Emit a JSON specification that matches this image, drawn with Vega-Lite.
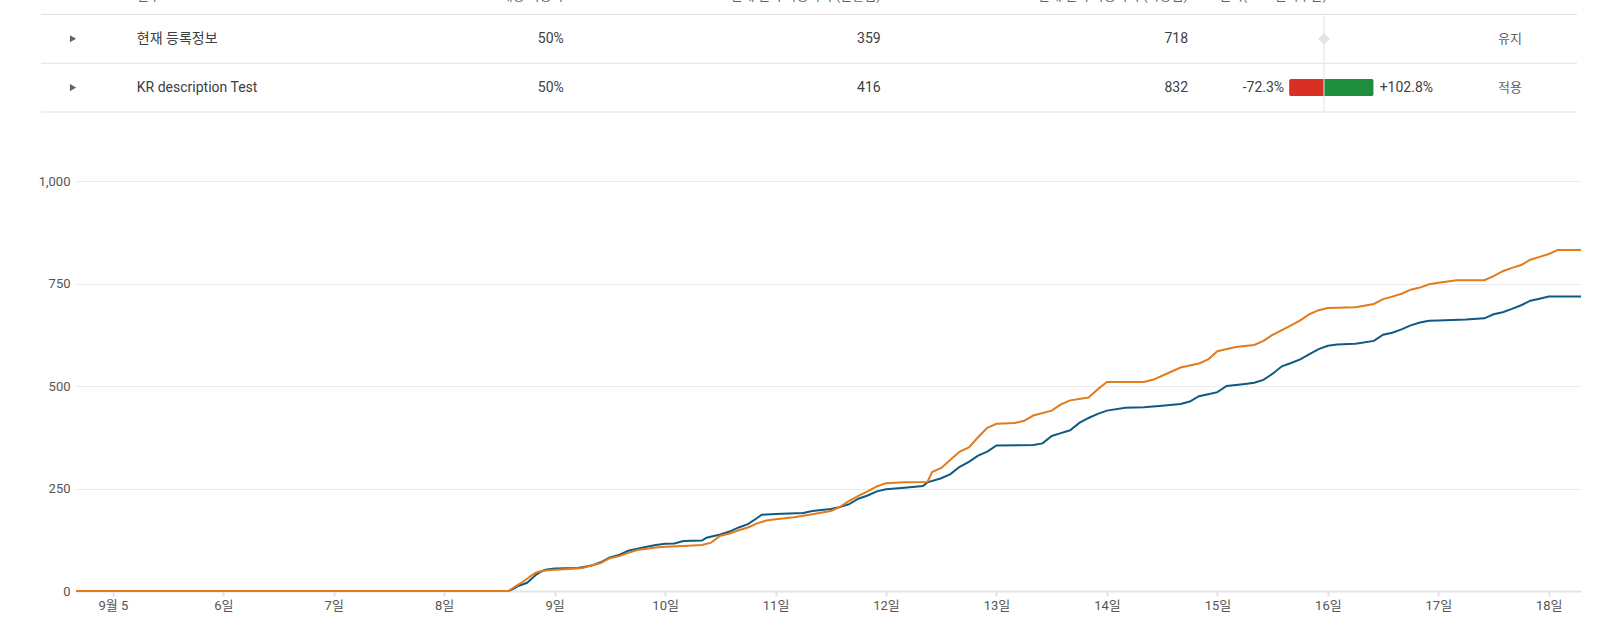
{
  "$schema": "https://vega.github.io/schema/vega-lite/v6.json",
  "width": 1505,
  "height": 410,
  "padding": {"left": 76, "top": 181, "right": 32, "bottom": 36},
  "autosize": {"type": "none"},
  "background": "white",
  "config": {"view": {"stroke": null}, "font": "Roboto, Noto Sans CJK KR, sans-serif"},
  "datasets": {
    "table": [
      {"name": "현재 등록정보", "audience": "50%", "observed": 359, "scaled": 718, "result": "유지"},
      {"name": "KR description Test", "audience": "50%", "observed": 416, "scaled": 832, "ci_low": -72.3, "ci_high": 102.8, "result": "적용"}
    ],
    "header": [
      {"row": "header", "name": "변수", "audience": "대상 사용자", "observed": "현재 설치 사용자 수(관찰됨)", "scaled": "현재 설치 사용자 수(확장됨)", "perf": "실적(90% 신뢰구간)"}
    ],
    "series": [
      {"variant": "현재 등록정보", "time": "2023-09-04T16:00", "installs": 0},
      {"variant": "현재 등록정보", "time": "2023-09-08T14:00", "installs": 0},
      {"variant": "현재 등록정보", "time": "2023-09-08T15:00", "installs": 5},
      {"variant": "현재 등록정보", "time": "2023-09-08T16:00", "installs": 12},
      {"variant": "현재 등록정보", "time": "2023-09-08T17:00", "installs": 16},
      {"variant": "현재 등록정보", "time": "2023-09-08T18:00", "installs": 20},
      {"variant": "현재 등록정보", "time": "2023-09-08T19:00", "installs": 30},
      {"variant": "현재 등록정보", "time": "2023-09-08T20:00", "installs": 40},
      {"variant": "현재 등록정보", "time": "2023-09-08T21:00", "installs": 47},
      {"variant": "현재 등록정보", "time": "2023-09-08T22:00", "installs": 52},
      {"variant": "현재 등록정보", "time": "2023-09-09T00:00", "installs": 55},
      {"variant": "현재 등록정보", "time": "2023-09-09T05:00", "installs": 56},
      {"variant": "현재 등록정보", "time": "2023-09-09T06:00", "installs": 58},
      {"variant": "현재 등록정보", "time": "2023-09-09T08:00", "installs": 62},
      {"variant": "현재 등록정보", "time": "2023-09-09T10:00", "installs": 70},
      {"variant": "현재 등록정보", "time": "2023-09-09T12:00", "installs": 82},
      {"variant": "현재 등록정보", "time": "2023-09-09T14:00", "installs": 88},
      {"variant": "현재 등록정보", "time": "2023-09-09T16:00", "installs": 98},
      {"variant": "현재 등록정보", "time": "2023-09-09T18:00", "installs": 103},
      {"variant": "현재 등록정보", "time": "2023-09-09T20:00", "installs": 108},
      {"variant": "현재 등록정보", "time": "2023-09-09T22:00", "installs": 112},
      {"variant": "현재 등록정보", "time": "2023-09-10T00:00", "installs": 115},
      {"variant": "현재 등록정보", "time": "2023-09-10T02:00", "installs": 116},
      {"variant": "현재 등록정보", "time": "2023-09-10T04:00", "installs": 122},
      {"variant": "현재 등록정보", "time": "2023-09-10T08:00", "installs": 123},
      {"variant": "현재 등록정보", "time": "2023-09-10T09:00", "installs": 130},
      {"variant": "현재 등록정보", "time": "2023-09-10T12:00", "installs": 138},
      {"variant": "현재 등록정보", "time": "2023-09-10T14:00", "installs": 145},
      {"variant": "현재 등록정보", "time": "2023-09-10T16:00", "installs": 155},
      {"variant": "현재 등록정보", "time": "2023-09-10T18:00", "installs": 163},
      {"variant": "현재 등록정보", "time": "2023-09-10T20:00", "installs": 178},
      {"variant": "현재 등록정보", "time": "2023-09-10T21:00", "installs": 186},
      {"variant": "현재 등록정보", "time": "2023-09-11T00:00", "installs": 188},
      {"variant": "현재 등록정보", "time": "2023-09-11T06:00", "installs": 190},
      {"variant": "현재 등록정보", "time": "2023-09-11T08:00", "installs": 195},
      {"variant": "현재 등록정보", "time": "2023-09-11T12:00", "installs": 200},
      {"variant": "현재 등록정보", "time": "2023-09-11T14:00", "installs": 205},
      {"variant": "현재 등록정보", "time": "2023-09-11T16:00", "installs": 212},
      {"variant": "현재 등록정보", "time": "2023-09-11T18:00", "installs": 225},
      {"variant": "현재 등록정보", "time": "2023-09-11T20:00", "installs": 233},
      {"variant": "현재 등록정보", "time": "2023-09-11T22:00", "installs": 243},
      {"variant": "현재 등록정보", "time": "2023-09-12T00:00", "installs": 248},
      {"variant": "현재 등록정보", "time": "2023-09-12T04:00", "installs": 252},
      {"variant": "현재 등록정보", "time": "2023-09-12T08:00", "installs": 256},
      {"variant": "현재 등록정보", "time": "2023-09-12T09:00", "installs": 265},
      {"variant": "현재 등록정보", "time": "2023-09-12T12:00", "installs": 275},
      {"variant": "현재 등록정보", "time": "2023-09-12T14:00", "installs": 285},
      {"variant": "현재 등록정보", "time": "2023-09-12T16:00", "installs": 303},
      {"variant": "현재 등록정보", "time": "2023-09-12T18:00", "installs": 315},
      {"variant": "현재 등록정보", "time": "2023-09-12T20:00", "installs": 330},
      {"variant": "현재 등록정보", "time": "2023-09-12T22:00", "installs": 340},
      {"variant": "현재 등록정보", "time": "2023-09-13T00:00", "installs": 355},
      {"variant": "현재 등록정보", "time": "2023-09-13T08:00", "installs": 356},
      {"variant": "현재 등록정보", "time": "2023-09-13T10:00", "installs": 360},
      {"variant": "현재 등록정보", "time": "2023-09-13T12:00", "installs": 378},
      {"variant": "현재 등록정보", "time": "2023-09-13T14:00", "installs": 385},
      {"variant": "현재 등록정보", "time": "2023-09-13T16:00", "installs": 392},
      {"variant": "현재 등록정보", "time": "2023-09-13T18:00", "installs": 410},
      {"variant": "현재 등록정보", "time": "2023-09-13T20:00", "installs": 422},
      {"variant": "현재 등록정보", "time": "2023-09-13T22:00", "installs": 432},
      {"variant": "현재 등록정보", "time": "2023-09-14T00:00", "installs": 440},
      {"variant": "현재 등록정보", "time": "2023-09-14T04:00", "installs": 447},
      {"variant": "현재 등록정보", "time": "2023-09-14T08:00", "installs": 448},
      {"variant": "현재 등록정보", "time": "2023-09-14T12:00", "installs": 452},
      {"variant": "현재 등록정보", "time": "2023-09-14T16:00", "installs": 456},
      {"variant": "현재 등록정보", "time": "2023-09-14T18:00", "installs": 462},
      {"variant": "현재 등록정보", "time": "2023-09-14T20:00", "installs": 475},
      {"variant": "현재 등록정보", "time": "2023-09-14T22:00", "installs": 480},
      {"variant": "현재 등록정보", "time": "2023-09-15T00:00", "installs": 485},
      {"variant": "현재 등록정보", "time": "2023-09-15T02:00", "installs": 500},
      {"variant": "현재 등록정보", "time": "2023-09-15T06:00", "installs": 505},
      {"variant": "현재 등록정보", "time": "2023-09-15T08:00", "installs": 508},
      {"variant": "현재 등록정보", "time": "2023-09-15T10:00", "installs": 515},
      {"variant": "현재 등록정보", "time": "2023-09-15T12:00", "installs": 530},
      {"variant": "현재 등록정보", "time": "2023-09-15T14:00", "installs": 548},
      {"variant": "현재 등록정보", "time": "2023-09-15T16:00", "installs": 556},
      {"variant": "현재 등록정보", "time": "2023-09-15T18:00", "installs": 565},
      {"variant": "현재 등록정보", "time": "2023-09-15T20:00", "installs": 578},
      {"variant": "현재 등록정보", "time": "2023-09-15T22:00", "installs": 590},
      {"variant": "현재 등록정보", "time": "2023-09-16T00:00", "installs": 598},
      {"variant": "현재 등록정보", "time": "2023-09-16T02:00", "installs": 601},
      {"variant": "현재 등록정보", "time": "2023-09-16T06:00", "installs": 603},
      {"variant": "현재 등록정보", "time": "2023-09-16T10:00", "installs": 610},
      {"variant": "현재 등록정보", "time": "2023-09-16T12:00", "installs": 625},
      {"variant": "현재 등록정보", "time": "2023-09-16T14:00", "installs": 630},
      {"variant": "현재 등록정보", "time": "2023-09-16T16:00", "installs": 638},
      {"variant": "현재 등록정보", "time": "2023-09-16T18:00", "installs": 648},
      {"variant": "현재 등록정보", "time": "2023-09-16T20:00", "installs": 655},
      {"variant": "현재 등록정보", "time": "2023-09-16T22:00", "installs": 659},
      {"variant": "현재 등록정보", "time": "2023-09-17T00:00", "installs": 660},
      {"variant": "현재 등록정보", "time": "2023-09-17T06:00", "installs": 662},
      {"variant": "현재 등록정보", "time": "2023-09-17T10:00", "installs": 665},
      {"variant": "현재 등록정보", "time": "2023-09-17T12:00", "installs": 675},
      {"variant": "현재 등록정보", "time": "2023-09-17T14:00", "installs": 680},
      {"variant": "현재 등록정보", "time": "2023-09-17T16:00", "installs": 688},
      {"variant": "현재 등록정보", "time": "2023-09-17T18:00", "installs": 697},
      {"variant": "현재 등록정보", "time": "2023-09-17T20:00", "installs": 708},
      {"variant": "현재 등록정보", "time": "2023-09-17T22:00", "installs": 713},
      {"variant": "현재 등록정보", "time": "2023-09-18T00:00", "installs": 718},
      {"variant": "현재 등록정보", "time": "2023-09-18T07:00", "installs": 718},
      {"variant": "KR description Test", "time": "2023-09-04T16:00", "installs": 0},
      {"variant": "KR description Test", "time": "2023-09-08T14:00", "installs": 0},
      {"variant": "KR description Test", "time": "2023-09-08T15:00", "installs": 8},
      {"variant": "KR description Test", "time": "2023-09-08T16:00", "installs": 15},
      {"variant": "KR description Test", "time": "2023-09-08T17:00", "installs": 22},
      {"variant": "KR description Test", "time": "2023-09-08T18:00", "installs": 30},
      {"variant": "KR description Test", "time": "2023-09-08T19:00", "installs": 38},
      {"variant": "KR description Test", "time": "2023-09-08T20:00", "installs": 45},
      {"variant": "KR description Test", "time": "2023-09-08T21:00", "installs": 48},
      {"variant": "KR description Test", "time": "2023-09-08T22:00", "installs": 50},
      {"variant": "KR description Test", "time": "2023-09-09T00:00", "installs": 52},
      {"variant": "KR description Test", "time": "2023-09-09T04:00", "installs": 54},
      {"variant": "KR description Test", "time": "2023-09-09T06:00", "installs": 56},
      {"variant": "KR description Test", "time": "2023-09-09T08:00", "installs": 62},
      {"variant": "KR description Test", "time": "2023-09-09T10:00", "installs": 68},
      {"variant": "KR description Test", "time": "2023-09-09T12:00", "installs": 80},
      {"variant": "KR description Test", "time": "2023-09-09T14:00", "installs": 85},
      {"variant": "KR description Test", "time": "2023-09-09T16:00", "installs": 93},
      {"variant": "KR description Test", "time": "2023-09-09T18:00", "installs": 100},
      {"variant": "KR description Test", "time": "2023-09-09T20:00", "installs": 103},
      {"variant": "KR description Test", "time": "2023-09-09T22:00", "installs": 106},
      {"variant": "KR description Test", "time": "2023-09-10T00:00", "installs": 108},
      {"variant": "KR description Test", "time": "2023-09-10T04:00", "installs": 110},
      {"variant": "KR description Test", "time": "2023-09-10T08:00", "installs": 112},
      {"variant": "KR description Test", "time": "2023-09-10T10:00", "installs": 118},
      {"variant": "KR description Test", "time": "2023-09-10T12:00", "installs": 135},
      {"variant": "KR description Test", "time": "2023-09-10T14:00", "installs": 140},
      {"variant": "KR description Test", "time": "2023-09-10T16:00", "installs": 148},
      {"variant": "KR description Test", "time": "2023-09-10T18:00", "installs": 155},
      {"variant": "KR description Test", "time": "2023-09-10T20:00", "installs": 165},
      {"variant": "KR description Test", "time": "2023-09-10T22:00", "installs": 172},
      {"variant": "KR description Test", "time": "2023-09-11T00:00", "installs": 175},
      {"variant": "KR description Test", "time": "2023-09-11T04:00", "installs": 180},
      {"variant": "KR description Test", "time": "2023-09-11T08:00", "installs": 187},
      {"variant": "KR description Test", "time": "2023-09-11T12:00", "installs": 195},
      {"variant": "KR description Test", "time": "2023-09-11T14:00", "installs": 205},
      {"variant": "KR description Test", "time": "2023-09-11T16:00", "installs": 220},
      {"variant": "KR description Test", "time": "2023-09-11T18:00", "installs": 232},
      {"variant": "KR description Test", "time": "2023-09-11T20:00", "installs": 243},
      {"variant": "KR description Test", "time": "2023-09-11T22:00", "installs": 255},
      {"variant": "KR description Test", "time": "2023-09-12T00:00", "installs": 263},
      {"variant": "KR description Test", "time": "2023-09-12T04:00", "installs": 265},
      {"variant": "KR description Test", "time": "2023-09-12T09:00", "installs": 266},
      {"variant": "KR description Test", "time": "2023-09-12T10:00", "installs": 290},
      {"variant": "KR description Test", "time": "2023-09-12T12:00", "installs": 300},
      {"variant": "KR description Test", "time": "2023-09-12T14:00", "installs": 320},
      {"variant": "KR description Test", "time": "2023-09-12T16:00", "installs": 340},
      {"variant": "KR description Test", "time": "2023-09-12T18:00", "installs": 350},
      {"variant": "KR description Test", "time": "2023-09-12T20:00", "installs": 375},
      {"variant": "KR description Test", "time": "2023-09-12T22:00", "installs": 398},
      {"variant": "KR description Test", "time": "2023-09-13T00:00", "installs": 408},
      {"variant": "KR description Test", "time": "2023-09-13T04:00", "installs": 410},
      {"variant": "KR description Test", "time": "2023-09-13T06:00", "installs": 415},
      {"variant": "KR description Test", "time": "2023-09-13T08:00", "installs": 428},
      {"variant": "KR description Test", "time": "2023-09-13T12:00", "installs": 440},
      {"variant": "KR description Test", "time": "2023-09-13T14:00", "installs": 455},
      {"variant": "KR description Test", "time": "2023-09-13T16:00", "installs": 465},
      {"variant": "KR description Test", "time": "2023-09-13T20:00", "installs": 472},
      {"variant": "KR description Test", "time": "2023-09-13T22:00", "installs": 492},
      {"variant": "KR description Test", "time": "2023-09-14T00:00", "installs": 510},
      {"variant": "KR description Test", "time": "2023-09-14T08:00", "installs": 510},
      {"variant": "KR description Test", "time": "2023-09-14T10:00", "installs": 515},
      {"variant": "KR description Test", "time": "2023-09-14T12:00", "installs": 525},
      {"variant": "KR description Test", "time": "2023-09-14T16:00", "installs": 545},
      {"variant": "KR description Test", "time": "2023-09-14T20:00", "installs": 555},
      {"variant": "KR description Test", "time": "2023-09-14T22:00", "installs": 565},
      {"variant": "KR description Test", "time": "2023-09-15T00:00", "installs": 585},
      {"variant": "KR description Test", "time": "2023-09-15T04:00", "installs": 595},
      {"variant": "KR description Test", "time": "2023-09-15T08:00", "installs": 600},
      {"variant": "KR description Test", "time": "2023-09-15T10:00", "installs": 610},
      {"variant": "KR description Test", "time": "2023-09-15T12:00", "installs": 625},
      {"variant": "KR description Test", "time": "2023-09-15T16:00", "installs": 648},
      {"variant": "KR description Test", "time": "2023-09-15T18:00", "installs": 660},
      {"variant": "KR description Test", "time": "2023-09-15T20:00", "installs": 675},
      {"variant": "KR description Test", "time": "2023-09-15T22:00", "installs": 685},
      {"variant": "KR description Test", "time": "2023-09-16T00:00", "installs": 690},
      {"variant": "KR description Test", "time": "2023-09-16T06:00", "installs": 692},
      {"variant": "KR description Test", "time": "2023-09-16T10:00", "installs": 700},
      {"variant": "KR description Test", "time": "2023-09-16T12:00", "installs": 712},
      {"variant": "KR description Test", "time": "2023-09-16T14:00", "installs": 718},
      {"variant": "KR description Test", "time": "2023-09-16T16:00", "installs": 725},
      {"variant": "KR description Test", "time": "2023-09-16T18:00", "installs": 735},
      {"variant": "KR description Test", "time": "2023-09-16T20:00", "installs": 740},
      {"variant": "KR description Test", "time": "2023-09-16T22:00", "installs": 748},
      {"variant": "KR description Test", "time": "2023-09-17T00:00", "installs": 752},
      {"variant": "KR description Test", "time": "2023-09-17T04:00", "installs": 758},
      {"variant": "KR description Test", "time": "2023-09-17T10:00", "installs": 758},
      {"variant": "KR description Test", "time": "2023-09-17T12:00", "installs": 768},
      {"variant": "KR description Test", "time": "2023-09-17T14:00", "installs": 780},
      {"variant": "KR description Test", "time": "2023-09-17T16:00", "installs": 788},
      {"variant": "KR description Test", "time": "2023-09-17T18:00", "installs": 795},
      {"variant": "KR description Test", "time": "2023-09-17T20:00", "installs": 808},
      {"variant": "KR description Test", "time": "2023-09-17T22:00", "installs": 815},
      {"variant": "KR description Test", "time": "2023-09-18T00:00", "installs": 822},
      {"variant": "KR description Test", "time": "2023-09-18T02:00", "installs": 832},
      {"variant": "KR description Test", "time": "2023-09-18T07:00", "installs": 832}
    ]
  },
  "resolve": {"scale": {"x": "independent", "y": "independent"}},
  "layer": [
    {
      "data": {"name": "series"},
      "mark": {"type": "line", "strokeWidth": 2, "interpolate": "linear"},
      "encoding": {
        "x": {
          "field": "time", "type": "temporal",
          "scale": {"domain": [{"year": 2023, "month": 9, "date": 4, "hours": 16}, {"year": 2023, "month": 9, "date": 18, "hours": 7}], "nice": false},
          "axis": {"title": null, "grid": false, "zindex": 0, "domainColor": "#e3e3e8", "domainWidth": 2, "tickColor": "#e3e3e8", "tickWidth": 2, "tickSize": 5, "labelColor": "#555555", "labelFontSize": 13, "labelPadding": 3, "labelFlush": false, "labelOverlap": false, "tickCount": {"interval": "day", "step": 1}, "labelExpr": "date(datum.value) == 5 ? '9월 5' : date(datum.value) + '일'"}
        },
        "y": {
          "field": "installs", "type": "quantitative",
          "scale": {"domain": [0, 1000], "nice": false},
          "axis": {"title": null, "domain": false, "ticks": false, "grid": true, "zindex": 0, "gridColor": "#ebebeb", "values": [0, 250, 500, 750, 1000], "format": ",.0f", "labelColor": "#555555", "labelFontSize": 13, "labelPadding": 6}
        },
        "color": {"field": "variant", "type": "nominal", "scale": {"domain": ["현재 등록정보", "KR description Test"], "range": ["#0f5a82", "#e17b1b"]}, "legend": null}
      }
    },
    {
      "data": {"name": "table"},
      "mark": {"type": "rule", "color": "#e0e0e0", "strokeWidth": 1},
      "encoding": {
        "x": {"datum": 0, "type": "quantitative", "scale": {"type": "linear", "domain": [0, 1], "range": [-35, 1501], "zero": false, "nice": false}, "axis": null},
        "x2": {"datum": 1},
        "y": {"field": "name", "type": "nominal", "scale": {"type": "band", "domain": ["header", "현재 등록정보", "KR description Test"], "range": [-191, -44.6], "paddingInner": 0, "paddingOuter": 0}, "axis": null}
      }
    },
    {
      "data": {"name": "header"},
      "mark": {"type": "rule", "color": "#e0e0e0", "strokeWidth": 1},
      "encoding": {
        "x": {"datum": 0, "type": "quantitative", "scale": {"type": "linear", "domain": [0, 1], "range": [-35, 1501], "zero": false, "nice": false}, "axis": null},
        "x2": {"datum": 1},
        "y": {"field": "row", "type": "nominal", "scale": {"type": "band", "domain": ["header", "현재 등록정보", "KR description Test"], "range": [-191, -44.6], "paddingInner": 0, "paddingOuter": 0}, "axis": null}
      }
    },
    {
      "data": {"name": "table"},
      "mark": {"type": "point", "shape": "triangle-right", "filled": true, "size": 50, "color": "#5f6368", "opacity": 1},
      "encoding": {
        "x": {"datum": "expander", "type": "nominal", "scale": {"type": "point", "domain": ["expander"], "range": [-3, -3]}, "axis": null},
        "y": {"field": "name", "type": "nominal", "scale": {"type": "band", "domain": ["header", "현재 등록정보", "KR description Test"], "range": [-215.4, -69], "paddingInner": 0, "paddingOuter": 0}, "axis": null}
      }
    },
    {
      "data": {"name": "table"},
      "mark": {"type": "text", "align": "left", "baseline": "middle", "fontSize": 14, "color": "#3c4043"},
      "encoding": {
        "x": {"datum": "name", "type": "nominal", "scale": {"type": "point", "domain": ["name"], "range": [60.8, 60.8]}, "axis": null},
        "y": {"field": "name", "type": "nominal", "scale": {"type": "band", "domain": ["header", "현재 등록정보", "KR description Test"], "range": [-215.4, -69], "paddingInner": 0, "paddingOuter": 0}, "axis": null},
        "text": {"field": "name", "type": "nominal"}
      }
    },
    {
      "data": {"name": "table"},
      "mark": {"type": "text", "align": "right", "baseline": "middle", "fontSize": 14, "color": "#3c4043"},
      "encoding": {
        "x": {"datum": "audience", "type": "nominal", "scale": {"type": "point", "domain": ["audience"], "range": [487.8, 487.8]}, "axis": null},
        "y": {"field": "name", "type": "nominal", "scale": {"type": "band", "domain": ["header", "현재 등록정보", "KR description Test"], "range": [-215.4, -69], "paddingInner": 0, "paddingOuter": 0}, "axis": null},
        "text": {"field": "audience", "type": "nominal"}
      }
    },
    {
      "data": {"name": "table"},
      "mark": {"type": "text", "align": "right", "baseline": "middle", "fontSize": 14, "color": "#3c4043"},
      "encoding": {
        "x": {"datum": "observed", "type": "nominal", "scale": {"type": "point", "domain": ["observed"], "range": [804.7, 804.7]}, "axis": null},
        "y": {"field": "name", "type": "nominal", "scale": {"type": "band", "domain": ["header", "현재 등록정보", "KR description Test"], "range": [-215.4, -69], "paddingInner": 0, "paddingOuter": 0}, "axis": null},
        "text": {"field": "observed", "type": "nominal"}
      }
    },
    {
      "data": {"name": "table"},
      "mark": {"type": "text", "align": "right", "baseline": "middle", "fontSize": 14, "color": "#3c4043"},
      "encoding": {
        "x": {"datum": "scaled", "type": "nominal", "scale": {"type": "point", "domain": ["scaled"], "range": [1112, 1112]}, "axis": null},
        "y": {"field": "name", "type": "nominal", "scale": {"type": "band", "domain": ["header", "현재 등록정보", "KR description Test"], "range": [-215.4, -69], "paddingInner": 0, "paddingOuter": 0}, "axis": null},
        "text": {"field": "scaled", "type": "nominal"}
      }
    },
    {
      "data": {"name": "table"},
      "mark": {"type": "text", "align": "center", "baseline": "middle", "fontSize": 13, "color": "#5f6368"},
      "encoding": {
        "x": {"datum": "result", "type": "nominal", "scale": {"type": "point", "domain": ["result"], "range": [1434, 1434]}, "axis": null},
        "y": {"field": "name", "type": "nominal", "scale": {"type": "band", "domain": ["header", "현재 등록정보", "KR description Test"], "range": [-215.4, -69], "paddingInner": 0, "paddingOuter": 0}, "axis": null},
        "text": {"field": "result", "type": "nominal"}
      }
    },
    {
      "data": {"name": "table"},
      "transform": [{"filter": "isValid(datum.ci_low)"}],
      "mark": {"type": "bar", "color": "#d93025", "height": 17, "cornerRadiusTopLeft": 2, "cornerRadiusBottomLeft": 2},
      "encoding": {
        "x": {"field": "ci_low", "type": "quantitative", "scale": {"type": "linear", "domain": [-100, 100], "range": [1199.7, 1296.3], "nice": false}, "axis": null},
        "y": {"field": "name", "type": "nominal", "scale": {"type": "band", "domain": ["header", "현재 등록정보", "KR description Test"], "range": [-215.4, -69], "paddingInner": 0, "paddingOuter": 0}, "axis": null}
      }
    },
    {
      "data": {"name": "table"},
      "transform": [{"filter": "isValid(datum.ci_high)"}],
      "mark": {"type": "bar", "color": "#1e8e3e", "height": 17, "cornerRadiusTopRight": 2, "cornerRadiusBottomRight": 2},
      "encoding": {
        "x": {"field": "ci_high", "type": "quantitative", "scale": {"type": "linear", "domain": [-100, 100], "range": [1199.7, 1296.3], "nice": false}, "axis": null},
        "y": {"field": "name", "type": "nominal", "scale": {"type": "band", "domain": ["header", "현재 등록정보", "KR description Test"], "range": [-215.4, -69], "paddingInner": 0, "paddingOuter": 0}, "axis": null}
      }
    },
    {
      "data": {"name": "table"},
      "mark": {"type": "tick", "size": 48.8, "thickness": 1, "color": "#e3e4e8", "opacity": 1},
      "encoding": {
        "x": {"datum": 0, "type": "quantitative", "scale": {"type": "linear", "domain": [-100, 100], "range": [1199.7, 1296.3], "nice": false}, "axis": null},
        "y": {"field": "name", "type": "nominal", "scale": {"type": "band", "domain": ["header", "현재 등록정보", "KR description Test"], "range": [-215.4, -69], "paddingInner": 0, "paddingOuter": 0}, "axis": null}
      }
    },
    {
      "data": {"name": "table"},
      "transform": [{"filter": "!isValid(datum.ci_low)"}],
      "mark": {"type": "point", "shape": "diamond", "filled": true, "size": 140, "color": "#e3e4e8", "opacity": 1},
      "encoding": {
        "x": {"datum": 0, "type": "quantitative", "scale": {"type": "linear", "domain": [-100, 100], "range": [1199.7, 1296.3], "nice": false}, "axis": null},
        "y": {"field": "name", "type": "nominal", "scale": {"type": "band", "domain": ["header", "현재 등록정보", "KR description Test"], "range": [-215.4, -69], "paddingInner": 0, "paddingOuter": 0}, "axis": null}
      }
    },
    {
      "data": {"name": "table"},
      "transform": [{"filter": "isValid(datum.ci_low)"}, {"calculate": "datum.ci_low + '%'", "as": "lo_label"}],
      "mark": {"type": "text", "align": "right", "baseline": "middle", "dx": -5, "fontSize": 14, "color": "#3c4043"},
      "encoding": {
        "x": {"field": "ci_low", "type": "quantitative", "scale": {"type": "linear", "domain": [-100, 100], "range": [1199.7, 1296.3], "nice": false}, "axis": null},
        "y": {"field": "name", "type": "nominal", "scale": {"type": "band", "domain": ["header", "현재 등록정보", "KR description Test"], "range": [-215.4, -69], "paddingInner": 0, "paddingOuter": 0}, "axis": null},
        "text": {"field": "lo_label", "type": "nominal"}
      }
    },
    {
      "data": {"name": "table"},
      "transform": [{"filter": "isValid(datum.ci_high)"}, {"calculate": "'+' + datum.ci_high + '%'", "as": "hi_label"}],
      "mark": {"type": "text", "align": "left", "baseline": "middle", "dx": 6, "fontSize": 14, "color": "#3c4043"},
      "encoding": {
        "x": {"field": "ci_high", "type": "quantitative", "scale": {"type": "linear", "domain": [-100, 100], "range": [1199.7, 1296.3], "nice": false}, "axis": null},
        "y": {"field": "name", "type": "nominal", "scale": {"type": "band", "domain": ["header", "현재 등록정보", "KR description Test"], "range": [-215.4, -69], "paddingInner": 0, "paddingOuter": 0}, "axis": null},
        "text": {"field": "hi_label", "type": "nominal"}
      }
    },
    {
      "data": {"name": "header"},
      "mark": {"type": "text", "align": "left", "baseline": "bottom", "dy": 13, "fontSize": 13, "color": "#5f6368"},
      "encoding": {
        "x": {"datum": "name", "type": "nominal", "scale": {"type": "point", "domain": ["name"], "range": [60.8, 60.8]}, "axis": null},
        "y": {"field": "row", "type": "nominal", "scale": {"type": "band", "domain": ["header", "현재 등록정보", "KR description Test"], "range": [-215.4, -69], "paddingInner": 0, "paddingOuter": 0}, "axis": null},
        "text": {"field": "name", "type": "nominal"}
      }
    },
    {
      "data": {"name": "header"},
      "mark": {"type": "text", "align": "right", "baseline": "bottom", "dy": 13, "fontSize": 13, "color": "#5f6368"},
      "encoding": {
        "x": {"datum": "audience", "type": "nominal", "scale": {"type": "point", "domain": ["audience"], "range": [487.8, 487.8]}, "axis": null},
        "y": {"field": "row", "type": "nominal", "scale": {"type": "band", "domain": ["header", "현재 등록정보", "KR description Test"], "range": [-215.4, -69], "paddingInner": 0, "paddingOuter": 0}, "axis": null},
        "text": {"field": "audience", "type": "nominal"}
      }
    },
    {
      "data": {"name": "header"},
      "mark": {"type": "text", "align": "right", "baseline": "bottom", "dy": 13, "fontSize": 13, "color": "#5f6368"},
      "encoding": {
        "x": {"datum": "observed", "type": "nominal", "scale": {"type": "point", "domain": ["observed"], "range": [804.7, 804.7]}, "axis": null},
        "y": {"field": "row", "type": "nominal", "scale": {"type": "band", "domain": ["header", "현재 등록정보", "KR description Test"], "range": [-215.4, -69], "paddingInner": 0, "paddingOuter": 0}, "axis": null},
        "text": {"field": "observed", "type": "nominal"}
      }
    },
    {
      "data": {"name": "header"},
      "mark": {"type": "text", "align": "right", "baseline": "bottom", "dy": 13, "fontSize": 13, "color": "#5f6368"},
      "encoding": {
        "x": {"datum": "scaled", "type": "nominal", "scale": {"type": "point", "domain": ["scaled"], "range": [1112, 1112]}, "axis": null},
        "y": {"field": "row", "type": "nominal", "scale": {"type": "band", "domain": ["header", "현재 등록정보", "KR description Test"], "range": [-215.4, -69], "paddingInner": 0, "paddingOuter": 0}, "axis": null},
        "text": {"field": "scaled", "type": "nominal"}
      }
    },
    {
      "data": {"name": "header"},
      "mark": {"type": "text", "align": "right", "baseline": "bottom", "dy": 13, "fontSize": 13, "color": "#5f6368"},
      "encoding": {
        "x": {"datum": "perf", "type": "nominal", "scale": {"type": "point", "domain": ["perf"], "range": [1251, 1251]}, "axis": null},
        "y": {"field": "row", "type": "nominal", "scale": {"type": "band", "domain": ["header", "현재 등록정보", "KR description Test"], "range": [-215.4, -69], "paddingInner": 0, "paddingOuter": 0}, "axis": null},
        "text": {"field": "perf", "type": "nominal"}
      }
    }
  ]
}
